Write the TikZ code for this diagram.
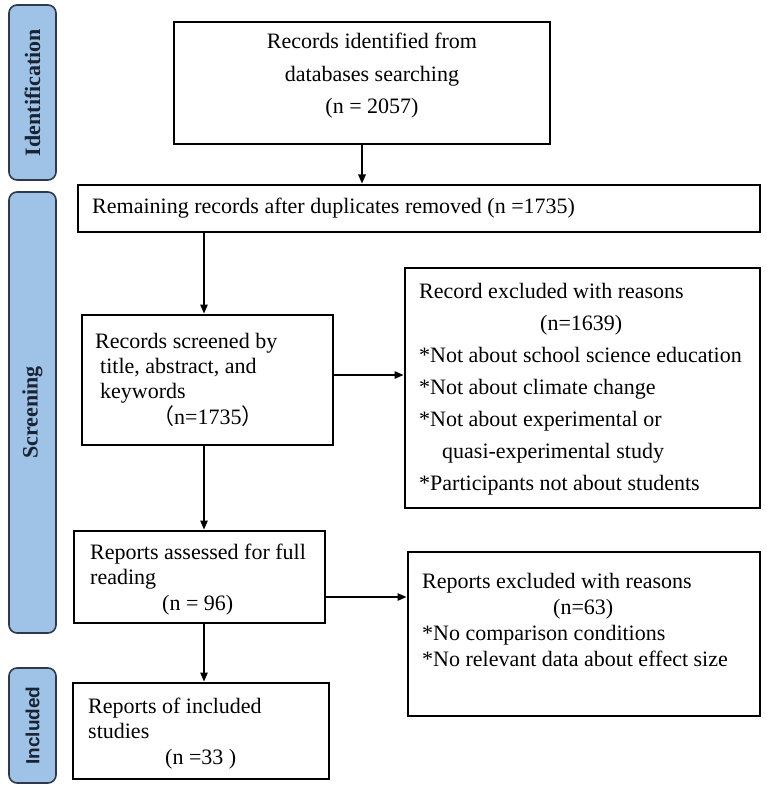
\documentclass[tikz,border=0pt]{standalone}
\usepackage{fontspec}
\setmainfont{Liberation Serif}
\newfontfamily\labsans{Liberation Sans}
\newfontfamily\cjk{Noto Sans CJK SC}
\usetikzlibrary{arrows.meta}
\definecolor{labfill}{RGB}{158,195,230}
\definecolor{labdraw}{RGB}{46,58,75}
\definecolor{labtext}{RGB}{25,35,50}
\begin{document}
\begin{tikzpicture}[x=1pt,y=-1pt,
  stagebox/.style={draw=labdraw, fill=labfill, line width=1.6pt, rounded corners=8pt, inner sep=0pt, rotate=90, text=labtext},
  flowbox/.style={draw=black, line width=2pt, inner sep=0pt},
  flowtext/.style={inner sep=0pt, anchor=base west, align=left},
  arr/.style={line width=1.3pt, -{Triangle[length=9pt,width=7.5pt]}, shorten >=0.5pt},
]
\useasboundingbox[fill=white] (0,0) rectangle (767,794);

% stage labels
\node[stagebox, minimum width=175pt, minimum height=47pt, font=\fontsize{22}{26}\selectfont\bfseries] (lab1) at (32.5,92.5) {Identification};
\node[stagebox, minimum width=441pt, minimum height=47pt, font=\fontsize{22}{26}\selectfont\bfseries] (lab2) at (32.5,412.5) {Screening};
\node[stagebox, minimum width=115pt, minimum height=47pt, font=\labsans\fontsize{19}{22}\selectfont\bfseries] (lab3) at (32.5,725.5) {Included};

% boxes
\node[flowbox, minimum width=376pt, minimum height=122pt] (b1) at (362,83) {};
\node[flowbox, minimum width=682pt, minimum height=47pt] (b2) at (419,208.5) {};
\node[flowbox, minimum width=251pt, minimum height=130pt] (b3) at (207.5,380) {};
\node[flowbox, minimum width=355pt, minimum height=240pt] (b4) at (582.5,388) {};
\node[flowbox, minimum width=251pt, minimum height=92pt] (b5) at (199.5,577) {};
\node[flowbox, minimum width=256pt, minimum height=96pt] (b6) at (201,731) {};
\node[flowbox, minimum width=352pt, minimum height=164pt] (b7) at (584,634) {};

% texts (anchor = baseline of last line)
\node[inner sep=0pt, anchor=base, align=center, font=\fontsize{22}{32.5}\selectfont] (t1) at (372,114)
  {Records identified from\\databases searching\\(n = 2057)};
\node[flowtext, font=\fontsize{22}{25}\selectfont] (t2) at (92,214)
  {Remaining records after duplicates removed (n =1735)};
\node[flowtext, font=\fontsize{22}{25.3}\selectfont] (t3) at (95,424)
  {Records screened by\\\hspace*{5pt}title, abstract, and\\\hspace*{5pt}keywords\\\hspace*{57pt}{\cjk （}n=1735{\cjk ）}};
\node[flowtext, font=\fontsize{22}{32}\selectfont] (t4) at (419,490)
  {Record excluded with reasons\\\hspace*{121pt}(n=1639)\\*Not about school science education\\*Not about climate change\\*Not about experimental or\\\hspace*{23pt}quasi-experimental study\\*Participants not about students};
\node[flowtext, font=\fontsize{22}{25.5}\selectfont] (t5) at (90,610)
  {Reports assessed for full\\reading\\\hspace*{72pt}(n = 96)};
\node[flowtext, font=\fontsize{22}{25.5}\selectfont] (t6) at (88,764)
  {Reports of included\\studies\\\hspace*{77pt}(n =33 )};
\node[flowtext, font=\fontsize{22}{25.7}\selectfont] (t7) at (422,666)
  {Reports excluded with reasons\\\hspace*{131pt}(n=63)\\*No comparison conditions\\*No relevant data about effect size};

% connectors
\coordinate (ax) at (204,0);
\coordinate (ay1) at (0,375);
\coordinate (ay2) at (0,597);
\draw[arr] (b1.south) -- (b2.north -| b1.south);
\draw[arr] (b2.south -| ax) -- (b3.north -| ax);
\draw[arr] (b3.east |- ay1) -- (b4.west |- ay1);
\draw[arr] (b3.south -| ax) -- (b5.north -| ax);
\draw[arr] (b5.east |- ay2) -- (b7.west |- ay2);
\draw[arr] (b5.south -| ax) -- (b6.north -| ax);
\end{tikzpicture}
\end{document}
